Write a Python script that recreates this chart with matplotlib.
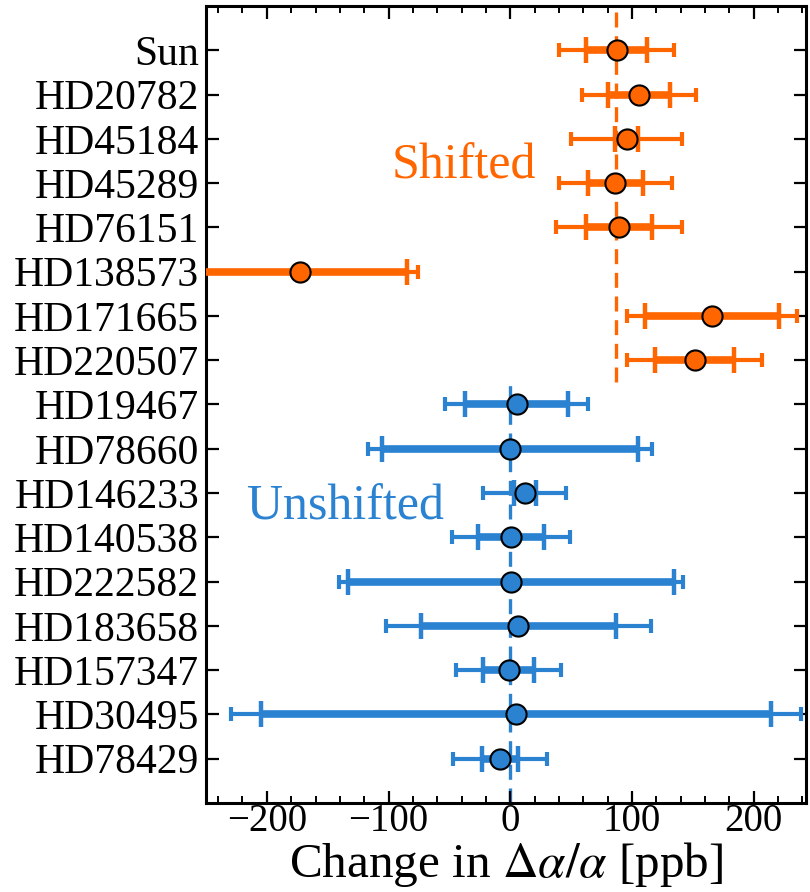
import matplotlib
matplotlib.use("Agg")
import matplotlib.pyplot as plt
from matplotlib.ticker import MultipleLocator
import numpy as np

plt.rcParams['font.family'] = ['Liberation Serif', 'DejaVu Serif']
plt.rcParams['mathtext.fontset'] = 'stix'

stars = ["Sun", "HD20782", "HD45184", "HD45289", "HD76151", "HD138573",
         "HD171665", "HD220507", "HD19467", "HD78660", "HD146233", "HD140538",
         "HD222582", "HD183658", "HD157347", "HD30495", "HD78429"]
values = [87.5, 106, 95.7, 86.5, 89.3, -173, 165.8, 151.5,
          5.2, -0.3, 12, 0.8, 0.7, 6.7, -1.3, 4.7, -8.4]
err_inner = [25.2, 25.5, 9.5, 22.5, 27.3, 88, 54.8, 32.2,
             42.5, 105.4, 8.9, 27, 133.7, 80, 21, 209.5, 15.1]
err_outer = [47.1, 47, 45.5, 46.6, 51.7, 97.6, 70.2, 55.3,
             58.7, 116.5, 34.1, 48.7, 141.5, 108.9, 43.2, 234, 38.3]
group = ["shifted"] * 8 + ["unshifted"] * 9
shifted_ref = 87.0
unshifted_ref = 0.0

colors = {"shifted": "#ff6600", "unshifted": "#2a82d1"}

fig = plt.figure(figsize=(8.1, 8.92), dpi=100)
ax = fig.add_axes([0.2543, 0.0998, 0.7407, 0.8935])

n = len(stars)
ypos = np.arange(n)[::-1]

for y, v, ei, eo, g in zip(ypos, values, err_inner, err_outer, group):
    c = colors[g]
    ax.errorbar(v, y, xerr=eo, fmt='none', ecolor=c, elinewidth=3.0,
                capsize=5.3, capthick=3.0, zorder=2)
    ax.errorbar(v, y, xerr=ei, fmt='none', ecolor=c, elinewidth=5.5,
                capsize=9.7, capthick=3.2, zorder=3)
    ax.plot(v, y, 'o', color=c, markersize=14.5, markeredgecolor='black',
            markeredgewidth=1.5, zorder=4)

ax.plot([shifted_ref, shifted_ref], [8.5, 17], ls=(0, (4.5, 2.6)),
        color=colors["shifted"], lw=2.4, zorder=1)
ax.plot([unshifted_ref, unshifted_ref], [-1, 8.5], ls=(0, (4.5, 2.6)),
        color=colors["unshifted"], lw=2.4, zorder=1)

ax.text(-37.8, 13.1, "Shifted", color=colors["shifted"], fontsize=36,
        ha='center', va='baseline')
ax.text(-135.7, 5.4, "Unshifted", color=colors["unshifted"], fontsize=36,
        ha='center', va='baseline')

ax.set_xlim(-250, 243)
ax.set_ylim(-1, 17)
ax.set_yticks(ypos)
ax.set_yticklabels(stars)
ax.xaxis.set_major_locator(MultipleLocator(100))
ax.xaxis.set_minor_locator(MultipleLocator(20))
ax.tick_params(axis='both', which='both', direction='in', top=True, right=True)
ax.tick_params(axis='both', which='major', length=9, width=1.6)
ax.tick_params(axis='both', which='minor', length=5, width=1.4)
ax.tick_params(axis='y', labelsize=30, pad=5)
ax.tick_params(axis='x', labelsize=28, pad=0)
for s in ax.spines.values():
    s.set_linewidth(2.2)

ax.set_xlabel(r"Change in $\Delta\alpha/\alpha$ [ppb]", fontsize=35.5, labelpad=0)

fig.savefig("out.png", dpi=100)
